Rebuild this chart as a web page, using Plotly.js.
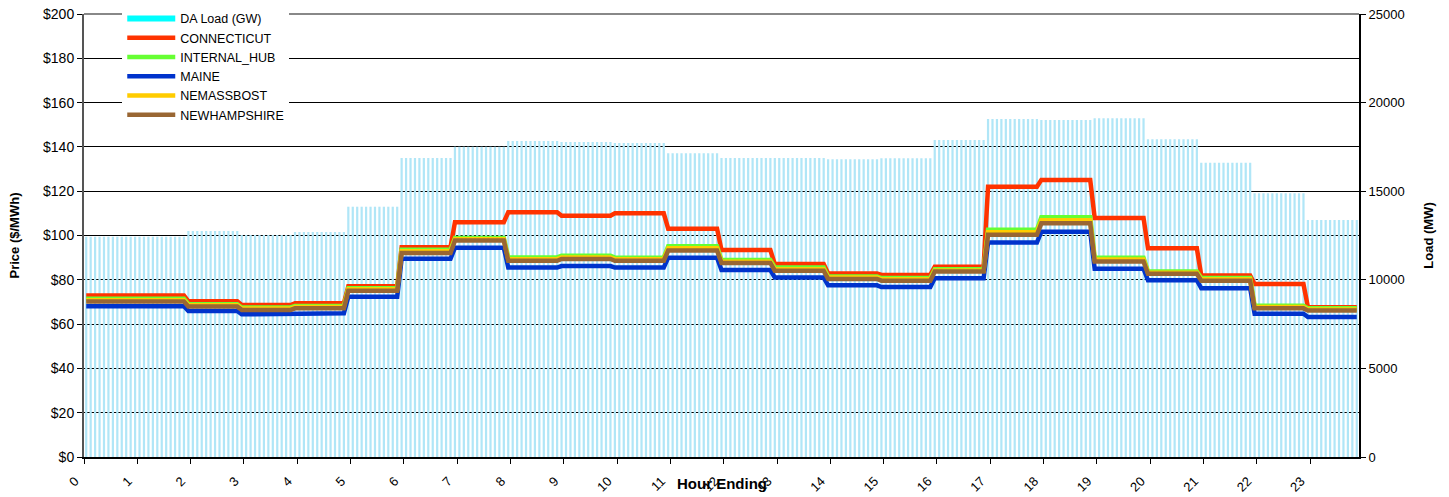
<!DOCTYPE html>
<html>
<head>
<meta charset="utf-8">
<script src="https://cdn.plot.ly/plotly-3.0.1.min.js"></script>
<style>
  html, body { margin: 0; padding: 0; background: #ffffff; }
  #chart { width: 1449px; height: 497px; }
</style>
</head>
<body>
<div id="chart"></div>
<script>
// Hour-ending tick labels
const hourLabels = ['0','1','2','3','4','5','6','7','8','9','10','11','12','13','14','15','16','17','18','19','20','21','22','23'];
const hourTicks = [0,1,2,3,4,5,6,7,8,9,10,11,12,13,14,15,16,17,18,19,20,21,22,23];

// Hourly values (hour 0 shown equal to hour 1)
const loadMW       = [12432,12432,12754,12528,12697,14125,16873,17512,17833,17776,17720,17138,16873,16873,16800,16855,17889,19074,19018,19112,17927,16610,14880,13375];
const connecticut  = [72.9,72.9,70.3,68.6,69.4,77.1,94.7,106.0,110.5,108.9,110.0,103.1,93.4,87.1,82.9,82.2,85.9,122.0,125.1,107.9,94.2,81.9,78.1,67.6];
const internalHub  = [71.4,71.4,69.0,67.5,68.2,76.2,93.6,98.9,90.1,90.9,90.0,95.1,88.9,85.6,81.5,80.8,84.8,102.6,108.2,90.0,83.8,80.8,68.3,67.1];
const maine        = [68.1,68.1,65.9,64.4,64.9,72.4,89.5,94.5,85.5,86.2,85.5,90.0,84.4,81.0,77.5,76.7,80.7,96.8,101.7,85.0,79.8,76.2,64.7,63.2];
const nemassbost   = [70.8,70.8,68.5,67.0,67.7,75.7,92.9,98.3,89.3,90.1,89.3,94.2,88.2,84.8,81.0,80.2,84.2,101.5,106.9,89.2,83.2,80.2,67.7,66.6];
const newhampshire = [70.2,70.2,67.9,66.4,67.1,75.1,92.1,97.7,88.6,89.4,88.6,93.2,87.6,84.1,80.4,79.6,83.7,100.3,105.5,88.3,82.7,79.6,67.1,66.1];

// 5-minute intervals: each hourly value applies to its twelve intervals
const nIntervals = 287;
const xInt = [];
for (let j = 0; j < nIntervals; j++) xInt.push((j + 0.5) / 12);
const expand = arr => xInt.map((_, j) => arr[Math.min(23, Math.floor((j + 1) / 12))]);

const FONT = 'Liberation Sans, Arial, sans-serif';

const lineTrace = (name, arr, color) => ({
  type: 'scatter', mode: 'lines', name: name,
  x: xInt, y: expand(arr), xaxis: 'x', yaxis: 'y2',
  line: { color: color, width: 4.5 },
  hoverinfo: 'x+y+name'
});

const data = [
  { type: 'scatter', mode: 'lines', name: 'DA Load (GW)', x: [null], y: [null], yaxis: 'y',
    line: { color: '#00ffff', width: 6 } },
  { type: 'bar', name: 'DA Load', showlegend: false, x: xInt, y: expand(loadMW), xaxis: 'x', yaxis: 'y',
    marker: { color: '#b0e6f7', line: { width: 0 } } },
  lineTrace('CONNECTICUT', connecticut, '#ff3300'),
  lineTrace('INTERNAL_HUB', internalHub, '#66ff33'),
  lineTrace('MAINE', maine, '#0033cc'),
  lineTrace('NEMASSBOST', nemassbost, '#ffcc00'),
  lineTrace('NEWHAMPSHIRE', newhampshire, '#996633')
];

const layout = {
  width: 1449, height: 497,
  margin: { l: 84, r: 90, t: 14, b: 40, autoexpand: false },
  paper_bgcolor: '#ffffff', plot_bgcolor: '#ffffff',
  font: { family: FONT, size: 13, color: '#000000' },
  bargap: 0.5,
  showlegend: true,
  legend: {
    x: 0.03, y: 1.0226, xanchor: 'left', yanchor: 'top',
    bgcolor: '#ffffff', borderwidth: 0,
    font: { family: FONT, size: 12.5, color: '#000000' },
    itemwidth: 48, traceorder: 'normal'
  },
  xaxis: {
    range: [0, nIntervals / 12],
    tickmode: 'array', tickvals: hourTicks, ticktext: hourLabels,
    tickangle: -45, ticks: 'outside', ticklen: 5, tickcolor: '#000000',
    ticklabelshift: -9, ticklabelstandoff: 5,
    showline: true, linecolor: '#000000', linewidth: 1.5,
    showgrid: false, zeroline: false,
    tickfont: { family: FONT, size: 13, color: '#000000' }
  },
  yaxis: {
    side: 'right',
    range: [0, 25000], tickmode: 'linear', tick0: 0, dtick: 5000,
    ticks: 'outside', ticklen: 5, tickcolor: '#000000',
    showline: true, linecolor: '#000000', linewidth: 2,
    showgrid: false, zeroline: false,
    tickformat: 'd',
    tickfont: { family: FONT, size: 13, color: '#000000' },
    title: { text: '<b>Load (MW)</b>', font: { family: FONT, size: 13, color: '#000000' }, standoff: 20 }
  },
  yaxis2: {
    overlaying: 'y', side: 'left',
    range: [0, 200], tickmode: 'linear', tick0: 0, dtick: 20, tickprefix: '$',
    ticks: 'outside', ticklen: 5, tickcolor: '#000000',
    showline: true, linecolor: '#555555', linewidth: 2,
    showgrid: true, gridcolor: '#000000', gridwidth: 1, zeroline: false,
    tickfont: { family: FONT, size: 14, color: '#000000' },
    title: { text: '<b>Price ($/MWh)</b>', font: { family: FONT, size: 13, color: '#000000' }, standoff: 20 }
  },
  shapes: [
    { type: 'line', xref: 'paper', yref: 'paper', x0: 0, x1: 1, y0: 1, y1: 1,
      line: { color: '#888888', width: 2 } }
  ],
  annotations: [
    { text: '<b>Hour Ending</b>', xref: 'paper', yref: 'paper', x: 0.5, y: -0.0587,
      xanchor: 'center', yanchor: 'middle', showarrow: false,
      font: { family: FONT, size: 15, color: '#000000' } }
  ]
};

Plotly.newPlot('chart', data, layout, { displayModeBar: false, staticPlot: true });
</script>
</body>
</html>
